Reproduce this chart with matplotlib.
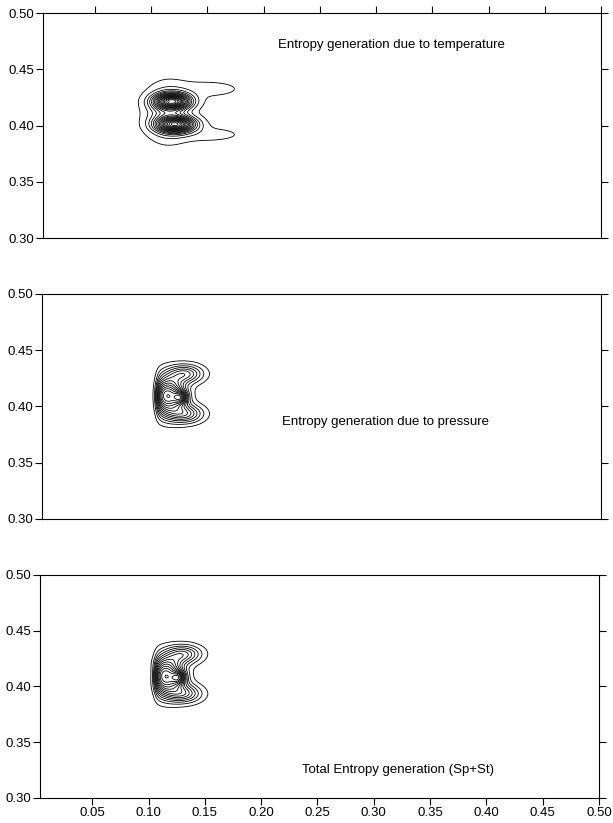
import numpy as np
import matplotlib.pyplot as plt

plt.rcParams['font.family'] = ['Liberation Sans', 'DejaVu Sans']

# panel captions
titles = ['Entropy generation due to temperature',
          'Entropy generation due to pressure',
          'Total Entropy generation (Sp+St)']
title_pos = [(0.314, 0.472), (0.309, 0.386), (0.322, 0.325)]

# temperature term: two hot lobes plus the two tails trailing downstream
st_cx = [0.119, 0.122, 0.150, 0.150, 0.115]
st_cy = [0.4215, 0.4010, 0.4325, 0.3920, 0.4115]
st_sx = [0.0105, 0.0110, 0.0240, 0.0240, 0.0120]
st_sy = [0.0045, 0.0045, 0.0058, 0.0050, 0.0140]
st_amp = [1.00, 1.00, 0.06, 0.06, 0.28]

# pressure term: C-shaped region with a peak near the middle
sp_cx = [0.115, 0.127, 0.131, 0.131]
sp_cy = [0.4095, 0.4080, 0.4290, 0.3935]
sp_sx = [0.0100, 0.0040, 0.0105, 0.0105]
sp_sy = [0.0110, 0.0040, 0.0055, 0.0055]
sp_amp = [0.80, 0.40, 0.34, 0.34]
sp_edge = 0.1055     # sharp leading edge of the pressure region
sp_edge_w = 0.0016

st_weight = 0.04     # share of St seen in the total

x_lim = (0.004, 0.50)
y_lim = (0.30, 0.50)
y_ticks = [0.30, 0.35, 0.40, 0.45, 0.50]
x_ticks = [0.05, 0.10, 0.15, 0.20, 0.25, 0.30, 0.35, 0.40, 0.45, 0.50]

xs = np.linspace(x_lim[0], x_lim[1], 1400)
ys = np.linspace(y_lim[0], y_lim[1], 600)
X, Y = np.meshgrid(xs, ys)


def blobs(cx, cy, sx, sy, amp):
    z = np.zeros_like(X)
    for a, b, c, d, e in zip(cx, cy, sx, sy, amp):
        z += e * np.exp(-((X - a) / c) ** 2 / 2 - ((Y - b) / d) ** 2 / 2)
    return z


St = blobs(st_cx, st_cy, st_sx, st_sy, st_amp)
Sp = blobs(sp_cx, sp_cy, sp_sx, sp_sy, sp_amp)
Sp = Sp / (1 + np.exp(-(X - sp_edge) / sp_edge_w))
Stot = Sp + st_weight * St

fields = [St / St.max(), Sp / Sp.max(), Stot / Stot.max()]
levels = [np.linspace(0.03, 0.95, 17),
          np.linspace(0.05, 0.95, 14),
          np.linspace(0.05, 0.95, 14)]

fig = plt.figure(figsize=(6.13, 8.23), dpi=100)
boxes = [[0.0700, 0.7108, 0.9110, 0.2734],
         [0.0690, 0.3694, 0.9110, 0.2734],
         [0.0660, 0.0304, 0.9110, 0.2710]]

for i in range(3):
    ax = fig.add_axes(boxes[i])
    ax.contour(X, Y, fields[i], levels=levels[i], colors='black',
               linewidths=0.6)
    ax.set_xlim(*x_lim)
    ax.set_ylim(*y_lim)
    ax.set_yticks(y_ticks)
    ax.set_yticklabels(['%.2f' % v for v in y_ticks], fontsize=9.5)
    ax.set_xticks(x_ticks)
    ax.tick_params(axis='both', direction='out', length=5, width=0.8,
                   pad=1.5, colors='black')
    ax.tick_params(axis='y', left=True, right=True)
    if i == 0:
        ax.tick_params(axis='x', top=True, bottom=False,
                       labelbottom=False, labeltop=False)
    elif i == 1:
        ax.tick_params(axis='x', top=False, bottom=False,
                       labelbottom=False)
    else:
        ax.set_xticklabels(['%.2f' % v for v in x_ticks], fontsize=9.5)
    for s in ax.spines.values():
        s.set_linewidth(0.8)
    tx, ty = title_pos[i]
    ax.text(tx, ty, titles[i], fontsize=9.5, ha='center', va='center')

fig.savefig('out.png', dpi=100)
